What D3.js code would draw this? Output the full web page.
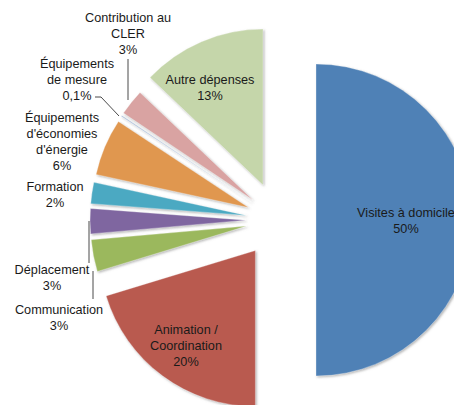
<!DOCTYPE html>
<html>
<head>
<meta charset="utf-8">
<script src="https://cdn.jsdelivr.net/npm/d3@7"></script>
<style>
  body { margin: 0; background: #fff; }
  svg { display: block; font-family: "Liberation Sans", Arial, sans-serif; }
</style>
</head>
<body>
<svg id="chart" width="454" height="405"></svg>
<script>
"use strict";

// data, in drawing order (clockwise from 12 o'clock)
const categories = [
    "Visites à domicile", "Animation / Coordination", "Communication", "Déplacement",
    "Formation", "Équipements d'économies d'énergie", "Équipements de mesure",
    "Contribution au CLER", "Autre dépenses"
];
const values = [50, 20.3, 3.3, 2.6, 2.2, 5.9, 0.1, 2.7, 12.9];
const pctLabels = ["50%", "20%", "3%", "3%", "2%", "6%", "0,1%", "3%", "13%"];
const labelLines = [
    ["Visites à domicile"], ["Animation /", "Coordination"], ["Communication"], ["Déplacement"],
    ["Formation"], ["Équipements", "d'économies", "d'énergie"], ["Équipements", "de mesure"],
    ["Contribution au", "CLER"], ["Autre dépenses"]
];
const colors = ["#4f81b6", "#b95a50", "#9bb85d", "#7f66a0", "#4ba9c2", "#e0974f", "#9db5d6", "#d9a3a2", "#c5d6aa"];

// layout
const cx = 278, cy = 220, radius = 156;
const explodeBy = [38, 38, 32, 32, 32, 32, 32, 32, 38];
// label text anchor (x of centre, y of first baseline)
const labelPos = [
    [406, 217], [186, 334], [59, 314], [52, 274],
    [55, 191], [62, 122], [77, 68], [128, 22], [210, 84]
];
// leader lines: label end first
const leaders = [
    [[128, 59], [128, 100]],
    [[95, 97], [101, 97], [119, 116]],
    [[89, 263], [89, 221]],
    [[93, 299], [93, 271]]
];

const svg = d3.select("#chart");

const defs = svg.append("defs");
const shadow = defs.append("filter").attr("id", "shadow")
    .attr("x", "-10%").attr("y", "-10%").attr("width", "130%").attr("height", "130%");
shadow.append("feDropShadow")
    .attr("dx", 1.2).attr("dy", 1.2).attr("stdDeviation", 0.8)
    .attr("flood-color", "#777").attr("flood-opacity", 0.55);

const pie = d3.pie().sort(null).value(d => d);
const arcs = pie(values);
const arc = d3.arc().innerRadius(0).outerRadius(radius);

function offsetOf(a) {
    let m = (a.startAngle + a.endAngle) / 2;
    let e = explodeBy[a.index];
    return [Math.sin(m) * e, -Math.cos(m) * e];
}

svg.append("g")
    .selectAll("path")
    .data(arcs)
    .join("path")
    .attr("transform", a => {
        let o = offsetOf(a);
        return `translate(${cx + o[0]},${cy + o[1]})`;
    })
    .attr("d", arc)
    .attr("fill", (a, i) => colors[i])
    .attr("stroke", "#ffffff")
    .attr("stroke-opacity", 0.5)
    .attr("stroke-width", 0.6)
    .attr("filter", "url(#shadow)");

svg.append("g")
    .selectAll("path")
    .data(leaders)
    .join("path")
    .attr("d", d3.line())
    .attr("fill", "none")
    .attr("stroke", "#4a4a4a")
    .attr("stroke-width", 1);

// labels
const lineH = 16;
const labels = svg.append("g")
    .selectAll("text")
    .data(arcs)
    .join("text")
    .attr("text-anchor", "middle")
    .attr("font-size", 12.7)
    .attr("fill", "#1a1a1a");
labels.each(function(a, i) {
    let t = d3.select(this);
    let rows = labelLines[i].concat([pctLabels[i]]);
    rows.forEach((row, k) => {
        t.append("tspan")
            .attr("x", labelPos[i][0])
            .attr("y", labelPos[i][1] + k * lineH)
            .text(row);
    });
});
</script>
</body>
</html>
